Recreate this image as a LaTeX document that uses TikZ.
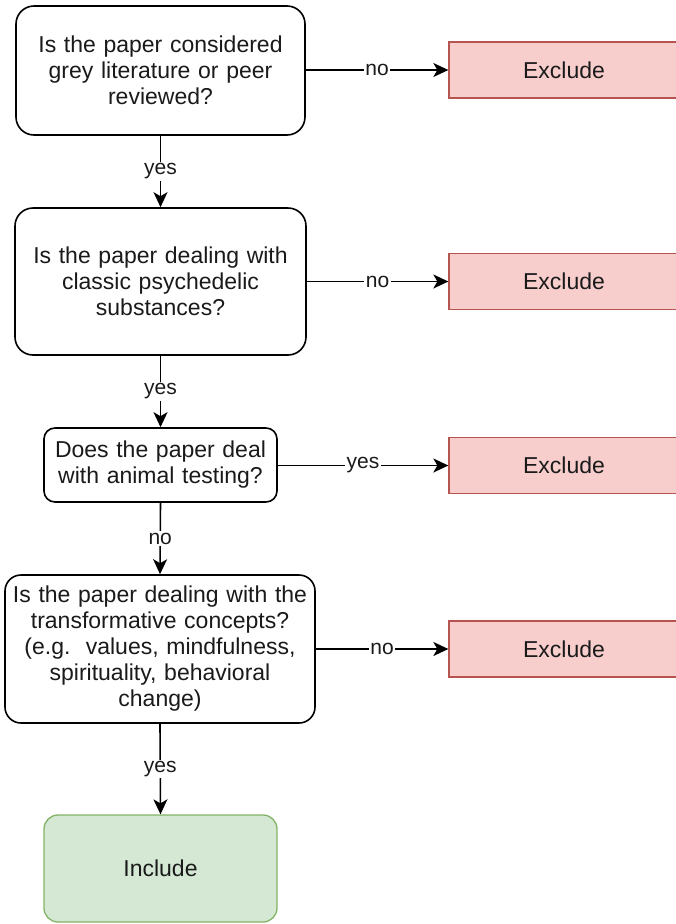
\documentclass[tikz,border=0pt]{standalone}
\usepackage{fontspec}
\setmainfont{Liberation Sans}
\usetikzlibrary{arrows.meta}
\definecolor{exfill}{HTML}{F8CECC}
\definecolor{exline}{HTML}{B85450}
\definecolor{infill}{HTML}{D5E8D4}
\definecolor{inline}{HTML}{82B366}
\definecolor{txt}{HTML}{1A1A1A}
\tikzset{
  qbox/.style={draw=black, line width=1.6pt, fill=white, inner sep=0pt, align=center,
    text=txt, font=\fontsize{23}{26}\selectfont},
  exbox/.style={draw=exline, line width=1.3pt, fill=exfill, inner sep=0pt,
    minimum width=230pt, minimum height=56pt, text=txt, font=\fontsize{23}{26}\selectfont},
  inbox/.style={draw=inline, line width=1.3pt, fill=infill, inner sep=0pt, rounded corners=14pt,
    minimum width=233pt, minimum height=107pt, text=txt, font=\fontsize{23}{26}\selectfont},
  conn/.style={draw=black, line width=1.6pt, -{Stealth[length=15pt,width=14pt,inset=4pt]}},
  lbl/.style={fill=white, inner sep=1.5pt, text=txt, font=\fontsize{21}{24}\selectfont}
}
\begin{document}
\begin{tikzpicture}[x=1pt,y=-1pt]
\useasboundingbox (0,0) rectangle (676,924);
\node[qbox, rounded corners=18pt, text width=289pt, minimum height=129pt] (q1) at (160.5,70.5)
  {Is the paper considered\\grey literature or peer\\reviewed?};
\node[qbox, rounded corners=18pt, text width=291pt, minimum height=147pt] (q2) at (160.5,281.5)
  {Is the paper dealing with\\classic psychedelic\\substances?};
\node[qbox, rounded corners=11pt, text width=233pt, minimum height=74pt] (q3) at (160.5,465)
  {Does the paper deal\\with animal testing?};
\node[qbox, rounded corners=16pt, text width=310pt, minimum height=148pt] (q4) at (160,649)
  {Is the paper dealing with the\\transformative concepts?\\(e.g.\ \ values, mindfulness,\\spirituality, behavioral\\change)};
\node[inbox] (inc) at (160.5,868.5) {Include};
\node[exbox] (e1) at (564,70) {Exclude};
\node[exbox] (e2) at (564,281.5) {Exclude};
\node[exbox] (e3) at (564,465.5) {Exclude};
\node[exbox] (e4) at (564,649) {Exclude};
\draw[conn] (q1.east |- e1.west) -- node[lbl] {no} (e1.west);
\draw[conn] (q2.east |- e2.west) -- node[lbl] {no} (e2.west);
\draw[conn] (q3.east |- e3.west) -- node[lbl] {yes} (e3.west);
\draw[conn] (q4.east |- e4.west) -- node[lbl] {no} (e4.west);
\draw[conn] (q1.south) -- node[lbl] {yes} (q2.north);
\draw[conn] (q2.south) -- node[lbl] {yes} (q3.north);
\draw[conn] (q3.south) -- node[lbl] {no} (q4.north);
\draw[conn] (q4.south) -- node[lbl] {yes} (inc.north);
\end{tikzpicture}
\end{document}
